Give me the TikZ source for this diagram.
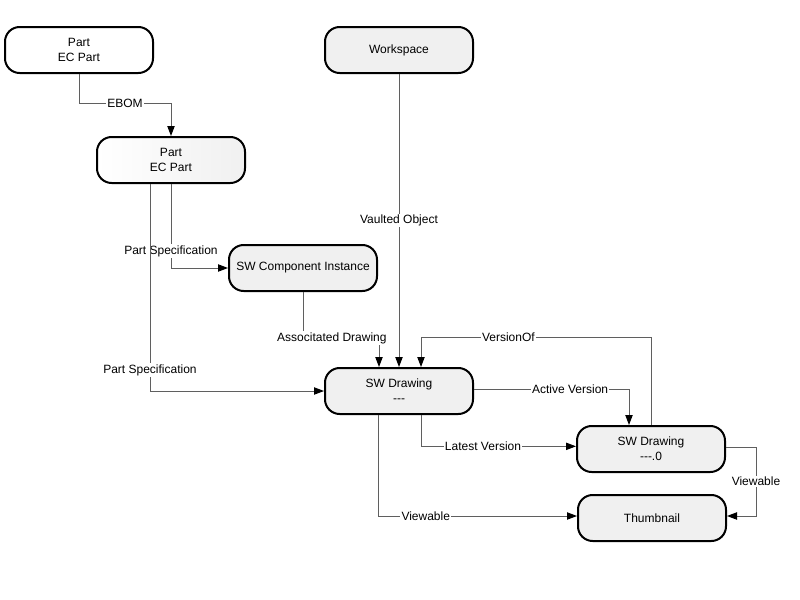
\documentclass[tikz,border=0pt]{standalone}
\usepackage{fontspec}
\setmainfont{Liberation Sans}
\usetikzlibrary{arrows.meta}
\definecolor{boxgray}{RGB}{240,240,240}
\definecolor{linegray}{RGB}{95,95,95}
\begin{document}
\begin{tikzpicture}[
  x=0.75pt, y=-0.75pt,
  box/.style={draw, line width=1.5pt, rounded corners=11pt, fill=boxgray,
              minimum width=111pt, minimum height=34.5pt, align=center,
              font=\fontsize{9}{11.25}\selectfont},
  lbl/.style={fill=white, inner sep=1pt, font=\fontsize{9}{11}\selectfont},
  arrow/.style={-{Triangle[length=7.5pt,width=5.5pt,color=black]}, draw=linegray, line width=0.75pt}
]
  \useasboundingbox (0,0) rectangle (800,600);

  \node[box, fill=white] (part1) at (79,50) {Part\\EC Part};
  \node[box] (ws) at (399,50) {Workspace};
  \node[box, shading=axis, left color=white, right color=boxgray] (part2) at (171,160) {Part\\EC Part};
  \node[box] (swci) at (303,268) {SW Component Instance};
  \node[box] (swd) at (399,391) {SW Drawing\\-{}-{}-};
  \node[box] (swd0) at (651,449) {SW Drawing\\-{}-{}-.0};
  \node[box] (thumb) at (652,518) {Thumbnail};

  \draw[arrow] (part1) -- (part1 |- 0,103) -| node[lbl, pos=0.25]{EBOM} (part2);
  \draw[arrow] (part2) |- node[lbl, pos=0.4]{Part Specification} (swci);
  \draw[arrow] ([xshift=-15.75pt]part2.south) |- node[lbl, pos=0.45]{Part Specification} (swd);
  \draw[arrow] (ws) -- node[lbl]{Vaulted Object} (swd);
  \draw[arrow] (swci) -- (swci |- 0,338) -| node[lbl, pos=0.19]{Associtated Drawing} ([xshift=-15pt]swd.north);
  \draw[arrow] (swd0) -- (swd0 |- 0,337) -| node[lbl, pos=0.31]{VersionOf} ([xshift=16.5pt]swd.north);
  \draw[arrow] ([yshift=1.5pt]swd.east) -| node[lbl, pos=0.31]{Active Version} ([xshift=-16.5pt]swd0.north);
  \draw[arrow] ([xshift=16.5pt]swd.south) |- node[lbl, pos=0.7]{Latest Version} ([yshift=2pt]swd0.west);
  \draw[arrow] ([xshift=-15.75pt]swd.south) |- node[lbl, pos=0.62]{Viewable} ([yshift=1.5pt]thumb.west);
  \draw[arrow] ([yshift=1.5pt]swd0.east) -- ++(30,0) |- node[lbl, pos=0.25]{Viewable} ([yshift=1.5pt]thumb.east);
\end{tikzpicture}
\end{document}
